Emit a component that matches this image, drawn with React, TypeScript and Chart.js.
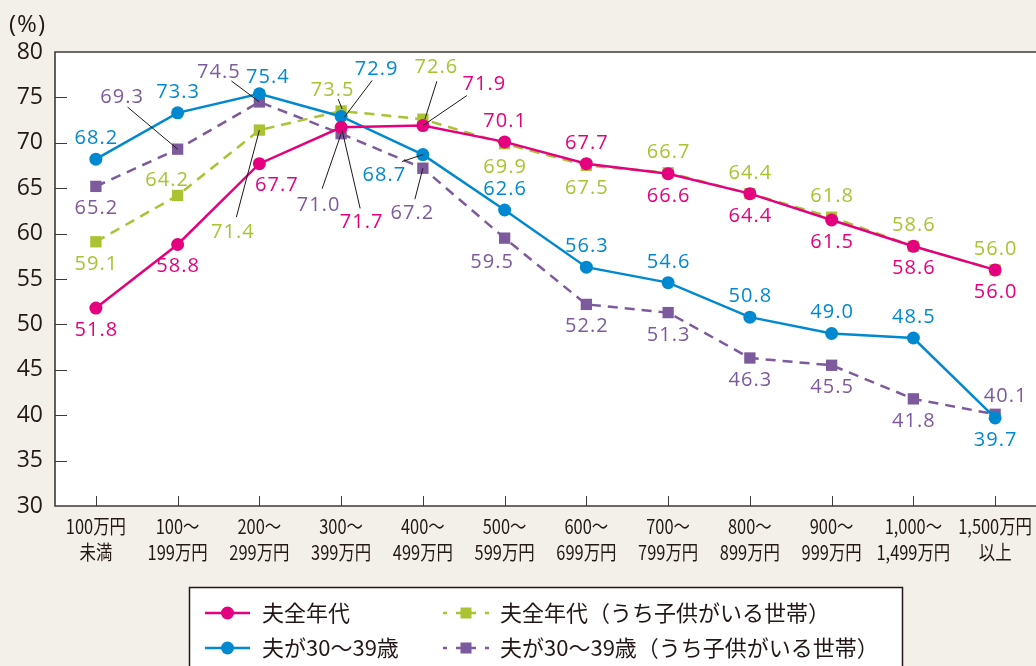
import React, { useEffect, useRef } from 'react';
import { Chart, registerables } from 'chart.js';

Chart.register(...registerables);

// ---- data ----
const categoryLine1 = ['100万円', '100～', '200～', '300～', '400～', '500～', '600～', '700～', '800～', '900～', '1,000～', '1,500万円'];
const categoryLine2 = ['未満', '199万円', '299万円', '399万円', '499万円', '599万円', '699万円', '799万円', '899万円', '999万円', '1,499万円', '以上'];

const allAges = [51.8, 58.8, 67.7, 71.7, 71.9, 70.1, 67.7, 66.6, 64.4, 61.5, 58.6, 56.0];
const allAgesWithKids = [59.1, 64.2, 71.4, 73.5, 72.6, 69.9, 67.5, 66.7, 64.4, 61.8, 58.6, 56.0];
const age30s = [68.2, 73.3, 75.4, 72.9, 68.7, 62.6, 56.3, 54.6, 50.8, 49.0, 48.5, 39.7];
const age30sWithKids = [65.2, 69.3, 74.5, 71.0, 67.2, 59.5, 52.2, 51.3, 46.3, 45.5, 41.8, 40.1];

const seriesNames = ['夫全年代', '夫全年代（うち子供がいる世帯）', '夫が30～39歳', '夫が30～39歳（うち子供がいる世帯）'];

const yMin = 30;
const yMax = 80;
const yStep = 5;

// ---- styles ----
const MAGENTA = '#e4007f';
const GREEN = '#abc233';
const BLUE = '#0089d0';
const PURPLE = '#7d5a9d';
const INK = '#231815';
const PAGE_BG = '#f3f0e9';

// label placement: [dx, dy] or [dx, dy, lx1, ly1, lx2, ly2] (leader line), relative to point
const A = [0, -22];
const B = [0, 21];
const magentaLabelPos = [B, B, [17, 20], [20, 94, 19, 81, 1, 3], [61, -43, 44, -30, 0, 0], A, A, B, B, B, B, B];
const greenLabelPos = [B, [-11, -16], [-27, 101, -23, 87, 0, 0], [-9, -22, -3, -12, 1, -2], [13, -53, 14, -38, 2, 0], [0, 22], B, A, A, A, A, A];
const blueLabelPos = [A, A, [8, -18], [35, -48, 31, -36, 3, 1], [-39, 19, -21, 7, 0, 0], A, A, A, A, A, A, B];
const purpleLabelPos = [B, [-56, -53, -50, -42, 0, 0], [-41, -31, -28, -21, 0, 0], [-23, 70, -19, 55, 0, 0], [-11, 44, -8, 31, 0, 0], [-13, 23], B, B, B, B, B, [10, -19]];

const setSpacing = (ctx: any, v: string) => {
  try { ctx.letterSpacing = v; } catch (e) { /* ignore */ }
};

const customPlugin = {
  id: 'custom',
  beforeDraw(chart: any) {
    const { ctx, chartArea: ca } = chart;
    ctx.save();
    ctx.fillStyle = PAGE_BG;
    ctx.fillRect(0, 0, chart.width, chart.height);
    ctx.fillStyle = '#ffffff';
    ctx.fillRect(ca.left, ca.top, ca.right - ca.left, ca.bottom - ca.top);
    ctx.restore();
  },
  beforeDatasetsDraw(chart: any) {
    const { ctx, chartArea: ca, scales } = chart;
    ctx.save();
    ctx.strokeStyle = '#3e3a39';
    ctx.lineWidth = 1;
    // inward y ticks
    for (let v = yMin + yStep; v < yMax; v += yStep) {
      const y = Math.round(scales.y.getPixelForValue(v)) + 0.5;
      ctx.beginPath();
      ctx.moveTo(ca.left, y);
      ctx.lineTo(ca.left + 12, y);
      ctx.stroke();
    }
    // inward x ticks
    for (let i = 0; i < categoryLine1.length; i++) {
      const x = Math.round(scales.x.getPixelForValue(i)) + 0.5;
      ctx.beginPath();
      ctx.moveTo(x, ca.bottom);
      ctx.lineTo(x, ca.bottom - 10);
      ctx.stroke();
    }
    // frame
    ctx.lineWidth = 1.6;
    ctx.beginPath();
    ctx.moveTo(ca.right + 2, ca.top);
    ctx.lineTo(ca.left, ca.top);
    ctx.lineTo(ca.left, ca.bottom);
    ctx.lineTo(ca.right + 2, ca.bottom);
    ctx.stroke();
    ctx.restore();
  },
  afterDatasetsDraw(chart: any) {
    const { ctx } = chart;
    const posSets = [magentaLabelPos, blueLabelPos, greenLabelPos, purpleLabelPos];
    ctx.save();
    chart.data.datasets.forEach((ds: any, di: number) => {
      const meta = chart.getDatasetMeta(di);
      const pos = posSets[di];
      meta.data.forEach((pt: any, i: number) => {
        const p = pos[i];
        if (p.length > 2) {
          ctx.strokeStyle = INK;
          ctx.lineWidth = 1;
          ctx.beginPath();
          ctx.moveTo(pt.x + p[2], pt.y + p[3]);
          ctx.lineTo(pt.x + p[4], pt.y + p[5]);
          ctx.stroke();
        }
      });
    });
    chart.data.datasets.forEach((ds: any, di: number) => {
      const meta = chart.getDatasetMeta(di);
      const pos = posSets[di];
      meta.data.forEach((pt: any, i: number) => {
        const p = pos[i];
        ctx.fillStyle = ds.borderColor;
        ctx.font = '20px "Open Sans"';
        setSpacing(ctx, '1px');
        ctx.textAlign = 'center';
        ctx.textBaseline = 'alphabetic';
        ctx.fillText(Number(ds.data[i]).toFixed(1), pt.x + p[0] + 0.5, pt.y + p[1] + 7);
      });
    });
    setSpacing(ctx, '0px');
    ctx.restore();
  },
  afterDraw(chart: any) {
    const { ctx, scales, chartArea: ca } = chart;
    ctx.save();
    // x category labels (condensed)
    ctx.fillStyle = INK;
    ctx.font = '20px "Noto Sans CJK JP"';
    ctx.textAlign = 'center';
    ctx.textBaseline = 'middle';
    for (let i = 0; i < categoryLine1.length; i++) {
      const x = scales.x.getPixelForValue(i);
      ctx.save();
      ctx.translate(x, 0);
      ctx.scale(0.82, 1);
      ctx.fillText(categoryLine1[i], 0, ca.bottom + 20);
      ctx.fillText(categoryLine2[i], 0, ca.bottom + 46);
      ctx.restore();
    }
    // unit
    ctx.font = '24px "Open Sans"';
    setSpacing(ctx, '1px');
    ctx.textAlign = 'left';
    ctx.textBaseline = 'middle';
    ctx.fillText('(%)', 9, 25);
    setSpacing(ctx, '0px');

    // legend
    const bx = 189.5, by = 587.5, bw = 713, bh = 100;
    ctx.fillStyle = '#ffffff';
    ctx.fillRect(bx, by, bw, bh);
    ctx.strokeStyle = INK;
    ctx.lineWidth = 1.5;
    ctx.strokeRect(bx, by, bw, bh);

    const items = [
      { x1: 205, x2: 250, y: 613, color: MAGENTA, dashed: false, square: false, text: seriesNames[0] },
      { x1: 443, x2: 489, y: 613, color: GREEN, dashed: true, square: true, text: seriesNames[1] },
      { x1: 205, x2: 250, y: 648, color: BLUE, dashed: false, square: false, text: seriesNames[2] },
      { x1: 443, x2: 489, y: 648, color: PURPLE, dashed: true, square: true, text: seriesNames[3] },
    ];
    items.forEach((it) => {
      const mid = (it.x1 + it.x2) / 2;
      ctx.strokeStyle = it.color;
      ctx.fillStyle = it.color;
      ctx.lineWidth = 2.5;
      ctx.beginPath();
      if (it.dashed) {
        ctx.moveTo(it.x1, it.y); ctx.lineTo(it.x1 + 4, it.y);
        ctx.moveTo(mid - 10, it.y); ctx.lineTo(mid + 10, it.y);
        ctx.moveTo(it.x2 - 4, it.y); ctx.lineTo(it.x2, it.y);
      } else {
        ctx.moveTo(it.x1, it.y); ctx.lineTo(it.x2, it.y);
      }
      ctx.stroke();
      if (it.square) {
        ctx.fillRect(mid - 5.5, it.y - 5.5, 11, 11);
      } else {
        ctx.beginPath();
        ctx.arc(mid, it.y, 6.5, 0, Math.PI * 2);
        ctx.fill();
      }
      ctx.fillStyle = INK;
      ctx.font = '22px "Noto Sans CJK JP"';
      ctx.textAlign = 'left';
      ctx.textBaseline = 'middle';
      ctx.fillText(it.text, it.x1 === 205 ? 262 : 500, it.y);
    });
    ctx.restore();
  },
};

export default function App() {
  const canvasRef = useRef<HTMLCanvasElement | null>(null);

  useEffect(() => {
    if (!canvasRef.current) return;
    const lineCommon = {
      borderWidth: 2.5,
      pointBorderWidth: 0,
      tension: 0,
      fill: false,
    };
    const chart = new Chart(canvasRef.current, {
      type: 'line',
      data: {
        labels: categoryLine1,
        datasets: [
          { ...lineCommon, label: seriesNames[0], data: allAges, borderColor: MAGENTA, backgroundColor: MAGENTA, pointBackgroundColor: MAGENTA, pointBorderColor: MAGENTA, pointStyle: 'circle', pointRadius: 6.5 },
          { ...lineCommon, label: seriesNames[2], data: age30s, borderColor: BLUE, backgroundColor: BLUE, pointBackgroundColor: BLUE, pointBorderColor: BLUE, pointStyle: 'circle', pointRadius: 6.5 },
          { ...lineCommon, label: seriesNames[1], data: allAgesWithKids, borderColor: GREEN, backgroundColor: GREEN, pointBackgroundColor: GREEN, pointBorderColor: GREEN, pointStyle: 'rect', pointRadius: 8, borderDash: [10, 7] },
          { ...lineCommon, label: seriesNames[3], data: age30sWithKids, borderColor: PURPLE, backgroundColor: PURPLE, pointBackgroundColor: PURPLE, pointBorderColor: PURPLE, pointStyle: 'rect', pointRadius: 8, borderDash: [10, 7] },
        ],
      },
      options: {
        responsive: false,
        animation: false,
        devicePixelRatio: 1,
        layout: { autoPadding: false, padding: { top: 52, left: 0, right: 0, bottom: 0 } },
        plugins: { legend: { display: false }, tooltip: { enabled: false } },
        scales: {
          x: {
            type: 'category',
            offset: true,
            grid: { display: false },
            border: { display: false },
            ticks: { display: false },
            afterFit: (s: any) => { s.height = 160; s.paddingLeft = 0; s.paddingRight = 0; },
          },
          y: {
            min: yMin,
            max: yMax,
            grid: { display: false, drawTicks: false },
            border: { display: false },
            ticks: {
              stepSize: yStep,
              padding: 12,
              color: INK,
              font: { family: '"Open Sans"', size: 23 },
            },
            afterFit: (s: any) => { s.width = 55; },
          },
        },
      },
      plugins: [customPlugin],
    } as any);
    return () => chart.destroy();
  }, []);

  return (
    <div style={{ position: 'fixed', left: 0, top: 0, width: 1036, height: 666, background: PAGE_BG }}>
      <canvas ref={canvasRef} width={1036} height={666} style={{ display: 'block', width: 1036, height: 666 }} />
    </div>
  );
}
